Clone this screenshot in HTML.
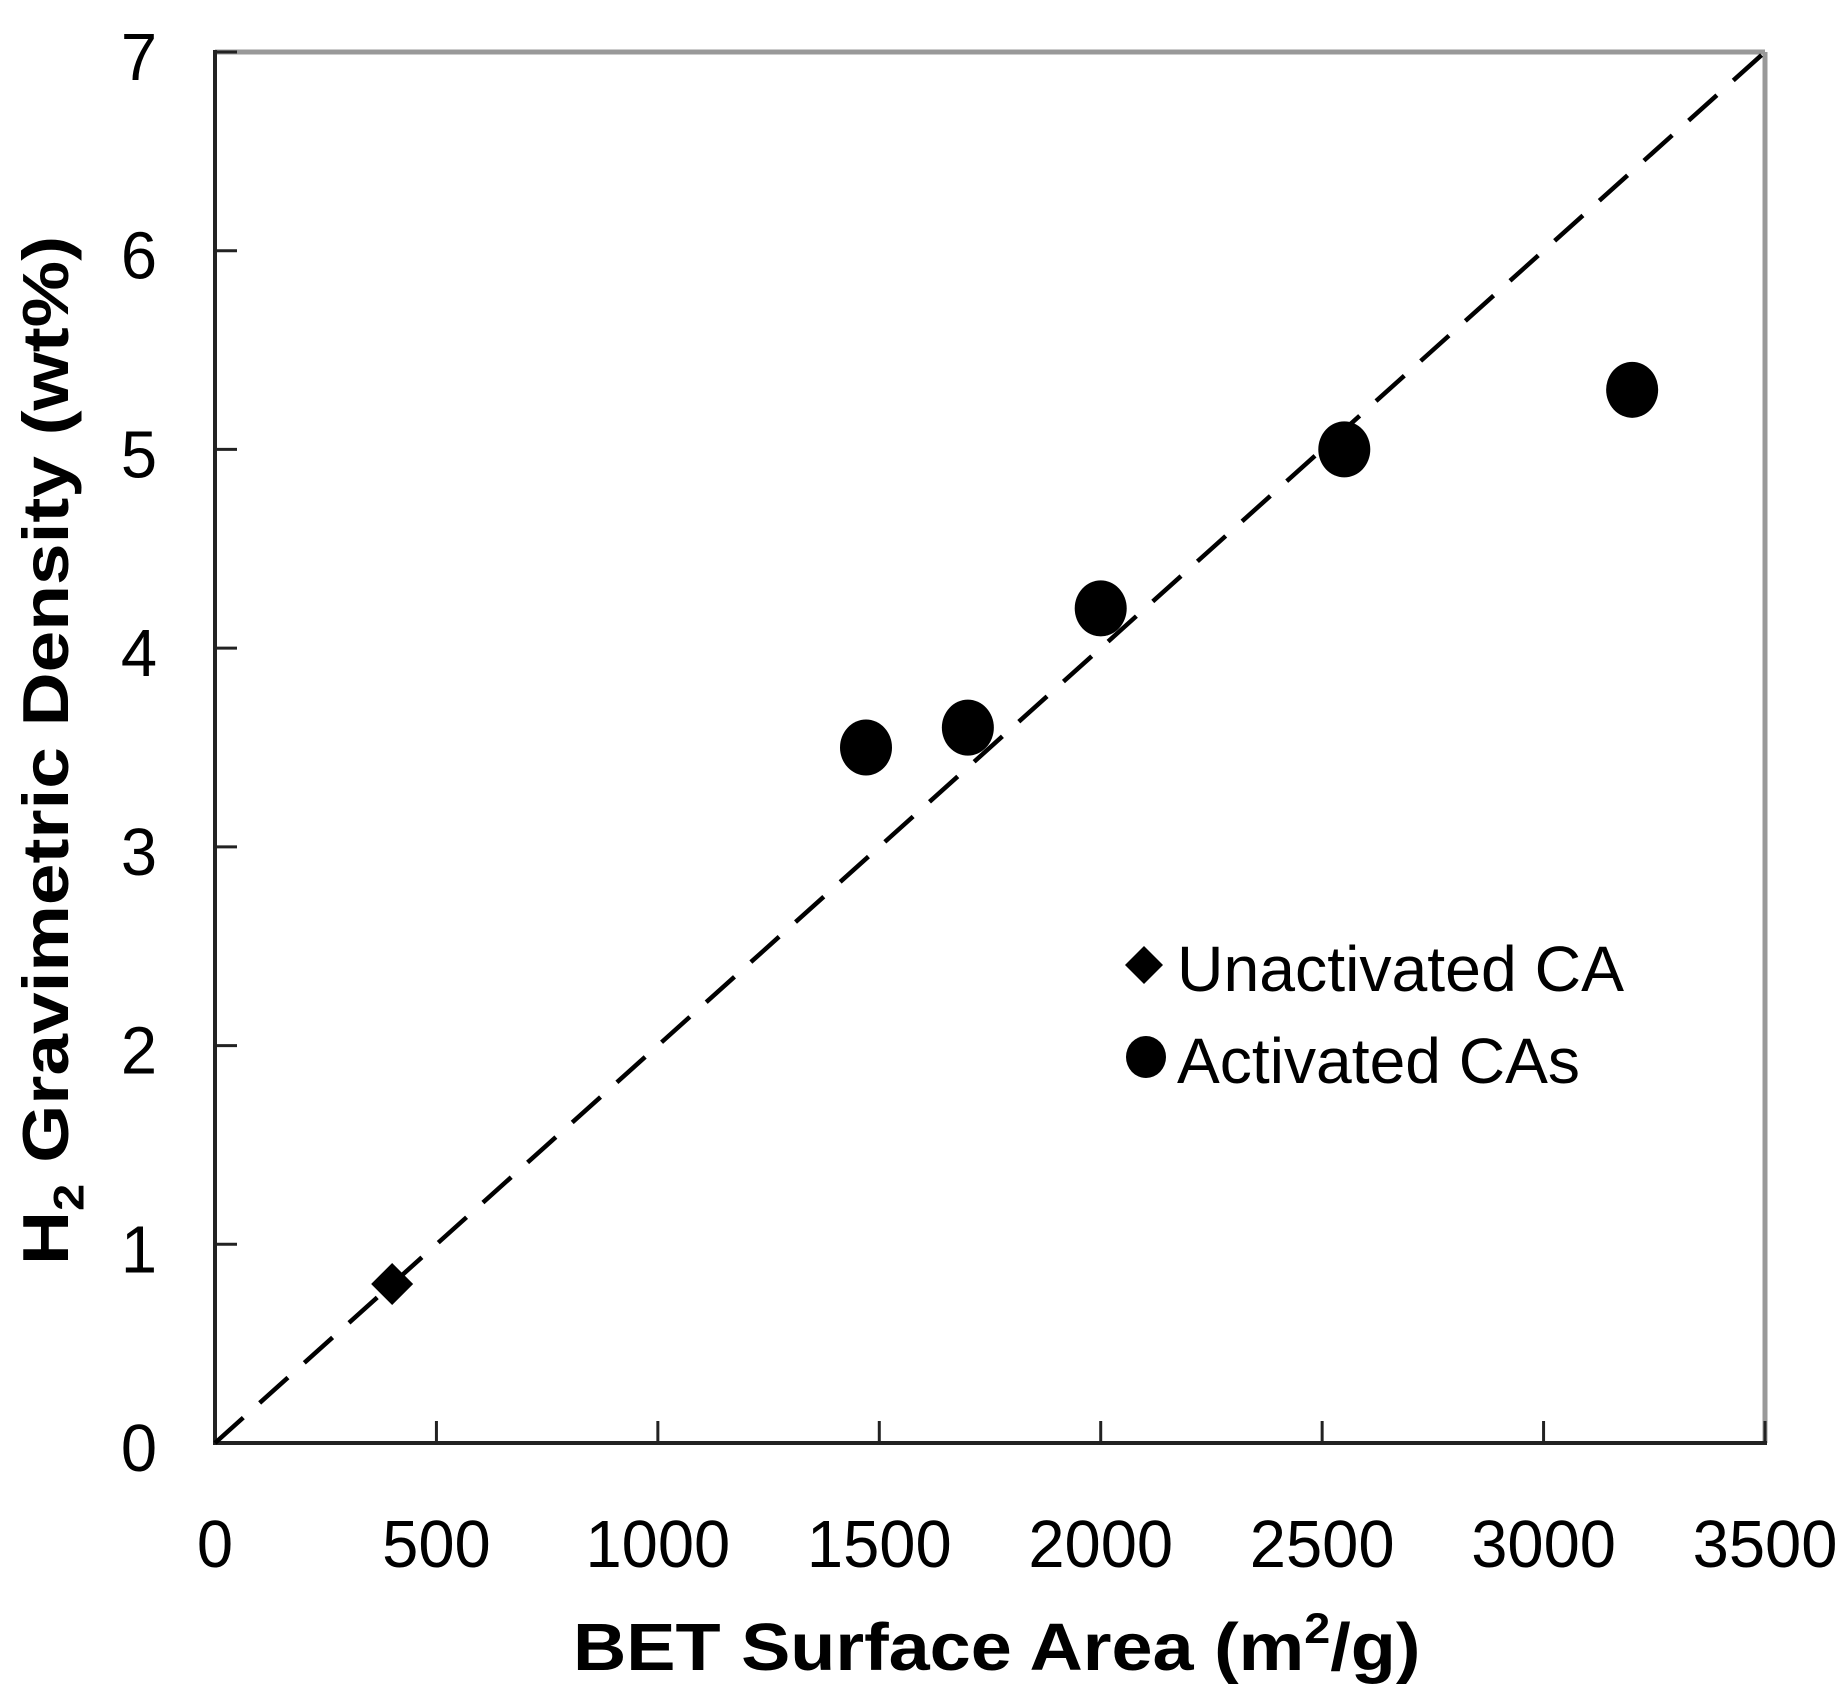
<!DOCTYPE html>
<html><head><meta charset="utf-8"><style>
html,body{margin:0;padding:0;background:#fff;}
svg{display:block;font-family:"Liberation Sans",Arial,sans-serif;}
</style></head><body>
<svg id="chart" width="1846" height="1702" viewBox="0 0 1846 1702">
<rect x="0" y="0" width="1846" height="1702" fill="#fff"/>
</svg>
<script>
const xTicks = [0,500,1000,1500,2000,2500,3000,3500];
const yTicks = [0,1,2,3,4,5,6,7];
const unactX = [400];
const unactY = [0.8];
const actX = [1470,1700,2000,2550,3200];
const actY = [3.5,3.6,4.2,5.0,5.3];
const fitLine = [[0,0],[3500,7]];

const L=215,R=1765,T=52,B=1443;
const sx=v=>L+(v-0)/3500*(R-L);
const sy=v=>B-(v-0)/7*(B-T);
const NS='http://www.w3.org/2000/svg';
const svg=document.getElementById('chart');
function mk(tag,attrs,parent){const e=document.createElementNS(NS,tag);for(const k in attrs)e.setAttribute(k,attrs[k]);(parent||svg).appendChild(e);return e;}

let e;
e=mk('line',{x1:L,y1:T,x2:R,y2:T,stroke:'#999',"stroke-width":5});


e=mk('line',{x1:R,y1:T,x2:R,y2:B,stroke:'#999',"stroke-width":5});


e=mk('line',{x1:L,y1:T-2,x2:L,y2:B+2,stroke:'#222',"stroke-width":4});


e=mk('line',{x1:L-2,y1:B,x2:R+2,y2:B,stroke:'#222',"stroke-width":4});



xTicks.forEach(v=>{
  const t=mk('line',{x1:sx(v),y1:B,x2:sx(v),y2:B-22,stroke:'#222',"stroke-width":3});
  
  
  const l=mk('text',{x:0,y:0,"text-anchor":"middle","font-size":62,fill:'#000',transform:`translate(${sx(v)},1567) scale(1.05,1.08)`});
  l.textContent=v;
  
  
});
yTicks.forEach(v=>{
  const t=mk('line',{x1:L,y1:sy(v),x2:L+22,y2:sy(v),stroke:'#222',"stroke-width":3});
  
  
  const l=mk('text',{x:0,y:0,"text-anchor":"middle","font-size":62,fill:'#000',transform:`translate(139,${sy(v)+28}) scale(1.05,1.08)`});
  l.textContent=v;
  
  
});

e=mk('line',{x1:sx(fitLine[0][0]),y1:sy(fitLine[0][1]),x2:sx(fitLine[1][0]),y2:sy(fitLine[1][1]),stroke:'#000',"stroke-width":4.5,"stroke-dasharray":"38 22"});



unactX.forEach((x,i)=>{
  const cx=sx(x),cy=sy(unactY[i]),r=21;
  const d=mk('polygon',{points:`${cx},${cy-r} ${cx+r},${cy} ${cx},${cy+r} ${cx-r},${cy}`,fill:'#000'});
  
  
});
actX.forEach((x,i)=>{
  const c=mk('ellipse',{cx:sx(x),cy:sy(actY[i]),rx:26,ry:28,fill:'#000'});
  
  
});

e=mk('polygon',{points:'1144,946 1163,965 1144,984 1125,965',fill:'#000'});


e=mk('text',{x:1177,y:991,"font-size":64,fill:'#000',textLength:447,lengthAdjust:'spacingAndGlyphs'});
e.textContent='Unactivated CA';


e=mk('ellipse',{cx:1146,cy:1057,rx:20,ry:21,fill:'#000'});


e=mk('text',{x:1177,y:1083,"font-size":64,fill:'#000',textLength:403,lengthAdjust:'spacingAndGlyphs'});
e.textContent='Activated CAs';



e=mk('text',{x:0,y:0,"font-size":60,"font-weight":"bold",fill:'#000',transform:'translate(573,1670) scale(1.23,1.12)'});
e.innerHTML='BET Surface Area (m<tspan font-size="38" dy="-24">2</tspan><tspan dy="24">/g)</tspan>';


e=mk('text',{x:0,y:0,"font-size":58,"font-weight":"bold",fill:'#000',transform:'translate(68,1265) rotate(-90) scale(1.29,1.12)'});
e.innerHTML='H<tspan font-size="38" dy="14">2</tspan><tspan dy="-14"> Gravimetric Density (wt%)</tspan>';


</script>
</body></html>
